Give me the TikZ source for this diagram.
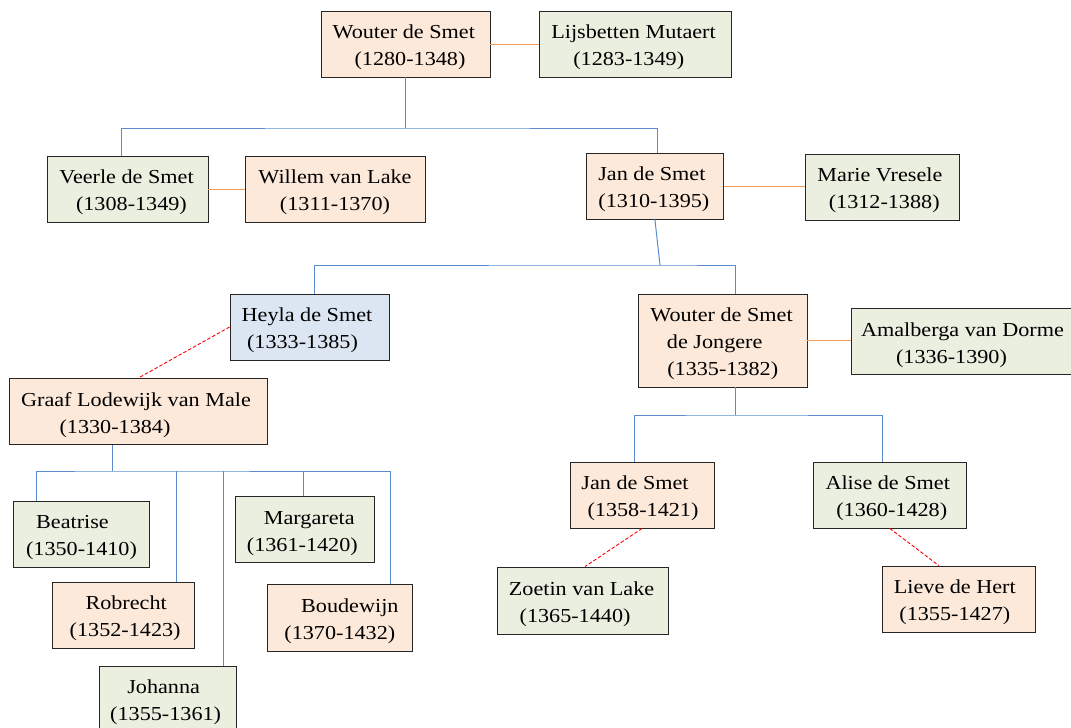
\documentclass[tikz,border=0pt]{standalone}
\usepackage{fontspec}
\setmainfont{Liberation Serif}[FakeStretch=1.12]
\definecolor{peachc}{HTML}{FDE9DA}
\definecolor{greenc}{HTML}{EBEFDF}
\definecolor{bluec}{HTML}{DCE6F2}
\definecolor{treec}{HTML}{5B8CCF}
\definecolor{wedc}{HTML}{F39A55}
\newcommand\sh[2]{\kern#1pt\relax#2\kern-#1pt\relax}
\newcommand\st{\rule{0pt}{20.5pt}}
\tikzset{
  box/.style={draw=black!85, line width=0.9pt, inner sep=0pt, align=center,
              font=\fontsize{19.8}{27}\selectfont},
  pbx/.style={box, fill=peachc},
  gbx/.style={box, fill=greenc},
  bbx/.style={box, fill=bluec},
  sz/.style 2 args={minimum width=#1pt, minimum height=#2pt},
  tree/.style={draw=treec, line width=1pt},
  wed/.style={draw=wedc, line width=1pt},
  aff/.style={draw=red, line width=0.9pt, dash pattern=on 3.5pt off 2pt},
}
\begin{document}
\begin{tikzpicture}[x=1pt,y=-1pt]
\fill[white] (0,0) rectangle (1071,728);
\useasboundingbox (0,0) rectangle (1071,728);

% generation 1
\node[pbx, sz={169}{66}] (wouter) at (405.5,44) {\sh{-1.7}{\st Wouter de Smet}\\\sh{4.5}{(1280-1348)}};
\node[gbx, sz={192}{66}] (lijs) at (635,44) {\sh{-1.5}{\st Lijsbetten Mutaert}\\\sh{-6.3}{(1283-1349)}};

% generation 2
\node[gbx, sz={160.5}{66}] (veerle) at (127.75,189) {\sh{-1.2}{\st Veerle de Smet}\\\sh{3.7}{(1308-1349)}};
\node[pbx, sz={180}{66}] (willem) at (335,189) {\st Willem van Lake\\(1311-1370)};
\node[pbx, sz={136.6}{66}] (jan) at (654.9,186) {\sh{-3}{\st Jan de Smet}\\\sh{-1}{(1310-1395)}};
\node[gbx, sz={153.6}{66}] (marie) at (882.2,187) {\sh{-2.3}{\st Marie Vresele}\\\sh{2}{(1312-1388)}};

% generation 3
\node[bbx, sz={159}{66}] (heyla) at (309.5,327) {\sh{-2.5}{\st Heyla de Smet}\\\sh{-7}{(1333-1385)}};
\node[pbx, sz={168.6}{93}] (wjr) at (722.7,340.5) {\sh{-1.2}{\st Wouter de Smet}\\\sh{-8}{de Jongere}\\(1335-1382)};
\node[gbx, sz={223}{66}] (amal) at (962.5,341.7) {\st Amalberga van Dorme\\\sh{-11}{(1336-1390)}};
\node[pbx, sz={258}{65.8}] (graaf) at (138,411.6) {\sh{-2}{\st Graaf Lodewijk van Male}\\\sh{-23}{(1330-1384)}};

% generation 4 (left)
\node[gbx, sz={136.4}{66}] (beatrise) at (81.5,534) {\sh{-9}{\st Beatrise}\\(1350-1410)};
\node[pbx, sz={142.3}{66}] (robrecht) at (123.15,615.3) {\sh{3}{\st Robrecht}\\\sh{2}{(1352-1423)}};
\node[gbx, sz={136.7}{66}] (johanna) at (167.65,699) {\sh{-4}{\st Johanna}\\\sh{-2}{(1355-1361)}};
\node[gbx, sz={138.3}{66.4}] (margareta) at (304.85,529.5) {\sh{4.4}{\st Margareta}\\\sh{-2.5}{(1361-1420)}};
\node[pbx, sz={145.7}{66.3}] (boudewijn) at (339.85,617.85) {\sh{10}{\st Boudewijn}\\(1370-1432)};

% generation 4 (right)
\node[pbx, sz={144}{66}] (jan2) at (642,495) {\sh{-7}{\st Jan de Smet}\\\sh{1}{(1358-1421)}};
\node[gbx, sz={153.5}{66}] (alise) at (889.75,495) {\sh{-2}{\st Alise de Smet}\\\sh{2}{(1360-1428)}};
\node[gbx, sz={171.5}{67}] (zoetin) at (583.05,600.5) {\sh{-1.5}{\st Zoetin van Lake}\\\sh{-8}{(1365-1440)}};
\node[pbx, sz={152.4}{66}] (lieve) at (958.8,599) {\sh{-4}{\st Lieve de Hert}\\\sh{-4}{(1355-1427)}};

% marriages
\draw[wed] (wouter.east) -- (lijs.west |- wouter.east);
\draw[wed] (veerle.east) -- (willem.west |- veerle.east);
\draw[wed] (jan.east) -- (marie.west |- jan.east);
\draw[wed] (wjr.east) -- (amal.west |- wjr.east);

% junctions
\coordinate (j1) at (405.5,128);
\coordinate (j2) at (660,265);
\coordinate (j3) at (735.7,415);
\coordinate (j4) at (112,471);

% descent lines
\draw[tree] (wouter.south) -- (j1);
\draw[tree] ([xshift=-5.8]veerle.north) |- (j1) -| ([xshift=2.5]jan.north);
\draw[tree] (jan.south) -- (j2);
\draw[tree] ([xshift=5]heyla.north) |- (j2) -| ([xshift=13]wjr.north);
\draw[tree] ([xshift=13]wjr.south) -- (j3);
\draw[tree] ([xshift=-7.4]jan2.north) |- (j3) -| ([xshift=-6.8]alise.north);
\draw[tree] ([xshift=-26]graaf.south) -- (j4);
\draw[tree] ([xshift=-45]beatrise.north) |- (j4) -| ([xshift=51]boudewijn.north);
\draw[tree] ([xshift=53]robrecht.north) -- ([xshift=53]robrecht.north |- j4);
\draw[tree] ([xshift=55.6]johanna.north) -- ([xshift=55.6]johanna.north |- j4);
\draw[tree] ([xshift=-1]margareta.north) -- ([xshift=-1]margareta.north |- j4);

% other relations
\draw[aff] (heyla.west) -- (graaf.north);
\draw[aff] (jan2.south) -- ([xshift=2]zoetin.north);
\draw[aff] (alise.south) -- ([xshift=-20]lieve.north);
\end{tikzpicture}
\end{document}
